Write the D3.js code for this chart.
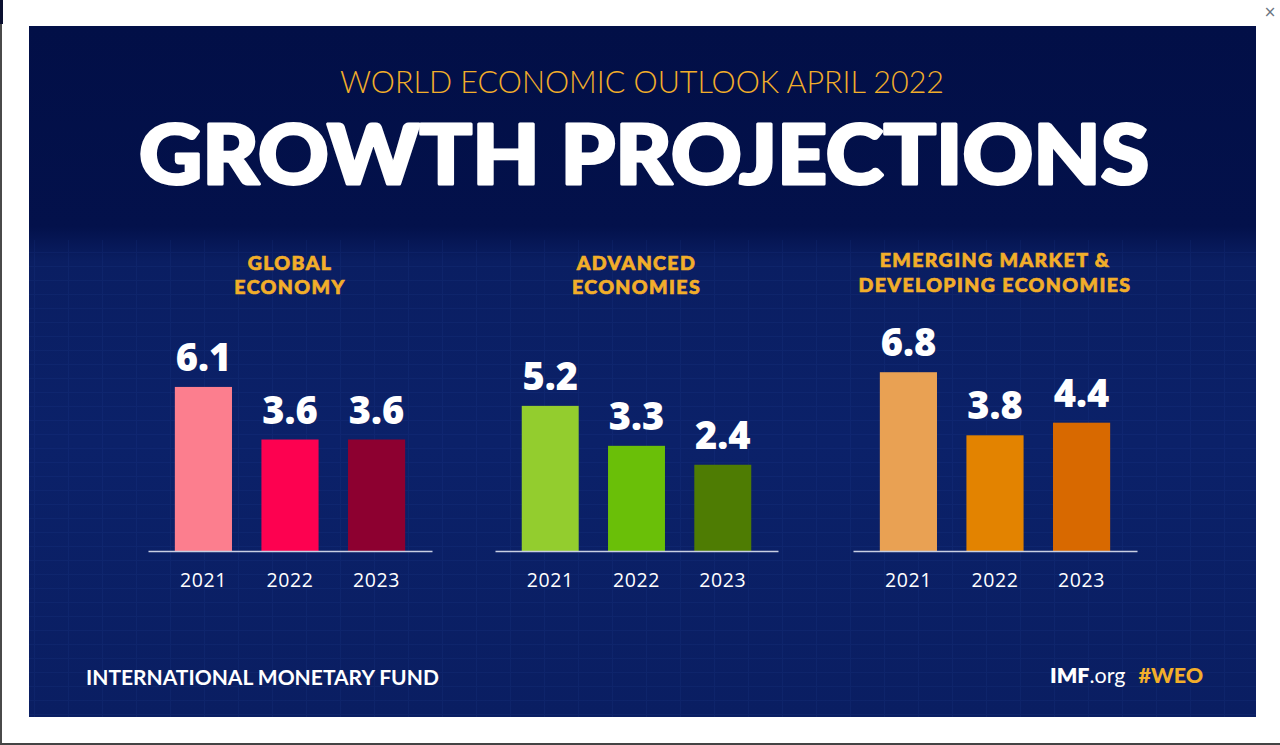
<!DOCTYPE html>
<html><head><meta charset="utf-8">
<script src="https://cdn.jsdelivr.net/npm/d3@7/dist/d3.min.js"></script>
<style>
html,body{margin:0;padding:0;background:#ffffff;overflow:hidden}
svg{display:block}
</style></head>
<body>
<script>
// ---- data ----
const years = ["2021", "2022", "2023"];
const panelTitles = [["GLOBAL", "ECONOMY"], ["ADVANCED", "ECONOMIES"], ["EMERGING MARKET &", "DEVELOPING ECONOMIES"]];
const globalValues = [6.1, 3.6, 3.6];
const advancedValues = [5.2, 3.3, 2.4];
const emergingValues = [6.8, 3.8, 4.4];
const globalColors = ["#fc7e8e", "#fd0150", "#8d0030"];
const advancedColors = ["#93cd2e", "#6abf08", "#4e7c03"];
const emergingColors = ["#e9a153", "#e38300", "#d86900"];
const subtitle = "WORLD ECONOMIC OUTLOOK APRIL 2022";
const title = "GROWTH PROJECTIONS";
const footerLeft = "INTERNATIONAL MONETARY FUND";

const W = 1280, H = 745;
const svg = d3.select("body").append("svg").attr("width", W).attr("height", H);
const defs = svg.append("defs");

// page chrome
svg.append("rect").attr("x", 0).attr("y", 0).attr("width", W).attr("height", H).attr("fill", "#ffffff");
svg.append("rect").attr("x", 0).attr("y", 0).attr("width", 2).attr("height", H).attr("fill", "#4a4a4a");
svg.append("rect").attr("x", 0).attr("y", 0).attr("width", 3).attr("height", 24).attr("fill", "#0a1030");
svg.append("rect").attr("x", 0).attr("y", 743).attr("width", W).attr("height", 2).attr("fill", "#444");
svg.append("text").attr("x", 1270).attr("y", 17).attr("text-anchor", "middle")
  .attr("font-family", "DejaVu Sans").attr("font-size", 15).attr("fill", "#6a7480").text("×");

// card background
const card = {x: 29, y: 26, w: 1227, h: 691};
const bg = defs.append("linearGradient").attr("id", "bg").attr("x1", 0).attr("y1", 0).attr("x2", 0).attr("y2", 1);
bg.append("stop").attr("offset", "0").attr("stop-color", "#020f47");
bg.append("stop").attr("offset", "0.29").attr("stop-color", "#03114b");
bg.append("stop").attr("offset", "0.34").attr("stop-color", "#0a1e62");
bg.append("stop").attr("offset", "0.6").attr("stop-color", "#0b2169");
bg.append("stop").attr("offset", "1").attr("stop-color", "#0a1e62");
svg.append("rect").attr("x", card.x).attr("y", card.y).attr("width", card.w).attr("height", card.h).attr("fill", "url(#bg)");

// faint mesh texture in lower area
const pat = defs.append("pattern").attr("id", "mesh").attr("patternUnits", "userSpaceOnUse")
  .attr("width", 34).attr("height", 14);
pat.append("path").attr("d", "M0 0.5 H34 M0.5 0 V14").attr("stroke", "#2a4ea8").attr("stroke-width", 1).attr("fill", "none");
svg.append("rect").attr("x", card.x).attr("y", 240).attr("width", card.w).attr("height", card.y + card.h - 240)
  .attr("fill", "url(#mesh)").attr("opacity", 0.12);

const font = "Lato, 'Open Sans', sans-serif";
const gold = "#f2ae2a";

// header
svg.append("text").attr("x", 642).attr("y", 93).attr("text-anchor", "middle")
  .attr("font-family", font).attr("font-weight", 300).attr("font-size", 30.5)
  .attr("fill", gold).attr("textLength", 604).attr("lengthAdjust", "spacingAndGlyphs").text(subtitle);
svg.append("text").attr("x", 644).attr("y", 184).attr("text-anchor", "middle")
  .attr("font-family", font).attr("font-weight", 900).attr("font-size", 82)
  .attr("fill", "#ffffff").attr("stroke", "#ffffff").attr("stroke-width", 3).attr("stroke-linejoin", "round")
  .attr("textLength", 1010).attr("lengthAdjust", "spacingAndGlyphs").text(title);

// shared value scale
const y = d3.scaleLinear().domain([-1.7, 7]).range([551, 368]);

const panels = [
  {values: globalValues, colors: globalColors, titles: panelTitles[0], range: [148, 432], ty: [270, 294]},
  {values: advancedValues, colors: advancedColors, titles: panelTitles[1], range: [495, 778], ty: [270, 294]},
  {values: emergingValues, colors: emergingColors, titles: panelTitles[2], range: [853, 1137], ty: [267, 292]}
];

panels.forEach(p => {
  const x = d3.scaleBand().domain(years).range(p.range).paddingInner(0.34).paddingOuter(0.31);
  const g = svg.append("g");
  const cx = (p.range[0] + p.range[1]) / 2;
  g.selectAll("text.ptitle").data(p.titles).join("text").attr("class", "ptitle")
    .attr("x", cx).attr("y", (d, i) => p.ty[i]).attr("text-anchor", "middle")
    .attr("font-family", font).attr("font-weight", 900).attr("font-size", 19.5)
    .attr("letter-spacing", 1.4).attr("fill", gold).attr("stroke", gold).attr("stroke-width", 0.7)
    .text(d => d);

  g.selectAll("rect.bar").data(p.values).join("rect").attr("class", "bar")
    .attr("x", (d, i) => x(years[i])).attr("width", x.bandwidth())
    .attr("y", d => y(d)).attr("height", d => y.range()[0] - y(d))
    .attr("fill", (d, i) => p.colors[i]);

  g.selectAll("text.val").data(p.values).join("text").attr("class", "val")
    .attr("x", (d, i) => x(years[i]) + x.bandwidth() / 2).attr("y", d => y(d) - 16)
    .attr("text-anchor", "middle").attr("font-family", "'Open Sans', Lato, sans-serif")
    .attr("font-weight", 800).attr("font-size", 38).attr("fill", "#ffffff").text(d => d.toFixed(1));

  const axis = d3.axisBottom(x).tickSize(0).tickPadding(20);
  const ag = g.append("g").attr("transform", `translate(0,${y.range()[0]})`).call(axis);
  ag.select(".domain").attr("stroke", "#c9cfe3").attr("stroke-width", 1.5);
  ag.selectAll(".tick text").attr("font-family", "'Open Sans', sans-serif").attr("font-size", 19.5)
    .attr("fill", "#ffffff").attr("letter-spacing", 0.6).attr("dy", "0.71em").attr("y", 22);
});

// footer
svg.append("text").attr("x", 86).attr("y", 685).attr("font-family", font).attr("font-weight", 700)
  .attr("font-size", 21).attr("fill", "#ffffff").text(footerLeft);
const ft = svg.append("text").attr("x", 1050).attr("y", 683).attr("font-family", font).attr("font-size", 21.5);
ft.append("tspan").attr("font-weight", 800).attr("fill", "#ffffff").text("IMF");
ft.append("tspan").attr("font-weight", 400).attr("fill", "#ffffff").text(".org");
ft.append("tspan").attr("dx", 13).attr("font-weight", 900).attr("fill", gold).text("#WEO");
</script>
</body></html>
